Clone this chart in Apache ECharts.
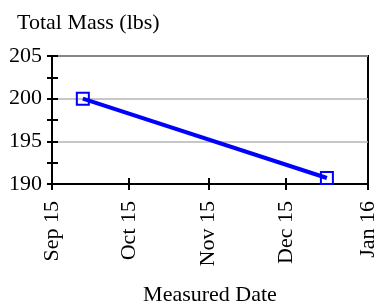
<!DOCTYPE html>
<html>
<head>
<meta charset="utf-8">
<script src="https://cdn.jsdelivr.net/npm/echarts@6/dist/echarts.min.js"></script>
<style>
  html, body { margin: 0; padding: 0; background: #fff; }
  #chart { width: 380px; height: 305px; }
</style>
</head>
<body>
<div id="chart"></div>
<script>
// measured points
var dates = ['2014-09-27', '2014-12-31'];
var mass = [200, 190.7];

// x ticks / labels
var tickDates = ['2014-09-15', '2014-10-15', '2014-11-15', '2014-12-15', '2015-01-16'];
var tickLabels = ['Sep 15', 'Oct 15', 'Nov 15', 'Dec 15', 'Jan 16'];

var yMin = 190, yMax = 205, yStep = 5;

var FONT = 'Liberation Serif';
function ms(d) { return +new Date(d + 'T00:00:00Z'); }
var tickMs = tickDates.map(ms);

var chart = echarts.init(document.getElementById('chart'), null, { renderer: 'canvas' });

var xBase = {
  type: 'value',
  min: tickMs[0],
  max: tickMs[tickMs.length - 1],
  splitLine: { show: false },
  axisLine: { lineStyle: { color: '#000', width: 2 } }
};

var option = {
  animation: false,
  title: {
    text: 'Total Mass (lbs)', left: 12, top: 7,
    textStyle: { fontFamily: FONT, fontSize: 22, fontWeight: 'normal', color: '#000' }
  },
  grid: {
    left: 52, right: 12, top: 56, bottom: 121,
    outerBoundsMode: 'none',
    show: true, borderColor: '#000', borderWidth: 2, backgroundColor: 'transparent'
  },
  xAxis: [
    Object.assign({}, xBase, {
      name: 'Measured Date', nameLocation: 'middle', nameGap: 100,
      nameTextStyle: { fontFamily: FONT, fontSize: 22, color: '#000' },
      axisTick: { show: true, length: 6, customValues: tickMs, lineStyle: { color: '#000', width: 2 } },
      axisLabel: {
        customValues: tickMs, rotate: 90, margin: 17,
        fontFamily: FONT, fontSize: 22, color: '#000',
        formatter: function (v) { return tickLabels[tickMs.indexOf(v)]; }
      }
    }),
    Object.assign({}, xBase, {
      position: 'bottom',
      axisTick: { show: true, inside: true, length: 6, customValues: tickMs, lineStyle: { color: '#000', width: 2 } },
      axisLabel: { show: false }
    })
  ],
  yAxis: [
    {
      type: 'value', min: yMin, max: yMax, interval: yStep,
      axisLine: { show: true, lineStyle: { color: '#000', width: 2 } },
      axisTick: { show: true, length: 5, lineStyle: { color: '#000', width: 2 } },
      minorTick: { show: true, splitNumber: 2, length: 5, lineStyle: { color: '#000', width: 2 } },
      splitLine: { show: true, lineStyle: { color: '#b4b4b4', width: 1.5 } },
      axisLabel: { fontFamily: FONT, fontSize: 22, color: '#000', margin: 10 }
    },
    {
      type: 'value', min: yMin, max: yMax, interval: yStep, position: 'left',
      axisLine: { show: false },
      axisTick: { show: true, inside: true, length: 6, lineStyle: { color: '#000', width: 2 } },
      minorTick: { show: true, splitNumber: 2, length: 6, lineStyle: { color: '#000', width: 2 } },
      splitLine: { show: false },
      axisLabel: { show: false }
    }
  ],
  series: [{
    type: 'line',
    data: dates.map(function (d, i) { return [ms(d), mass[i]]; }),
    symbol: 'rect', symbolSize: 12,
    itemStyle: { color: 'rgba(0,0,0,0)', borderColor: '#0000ff', borderWidth: 2 },
    lineStyle: { color: '#0000ff', width: 4 },
    z: 5
  }]
};

chart.setOption(option);
</script>
</body>
</html>
